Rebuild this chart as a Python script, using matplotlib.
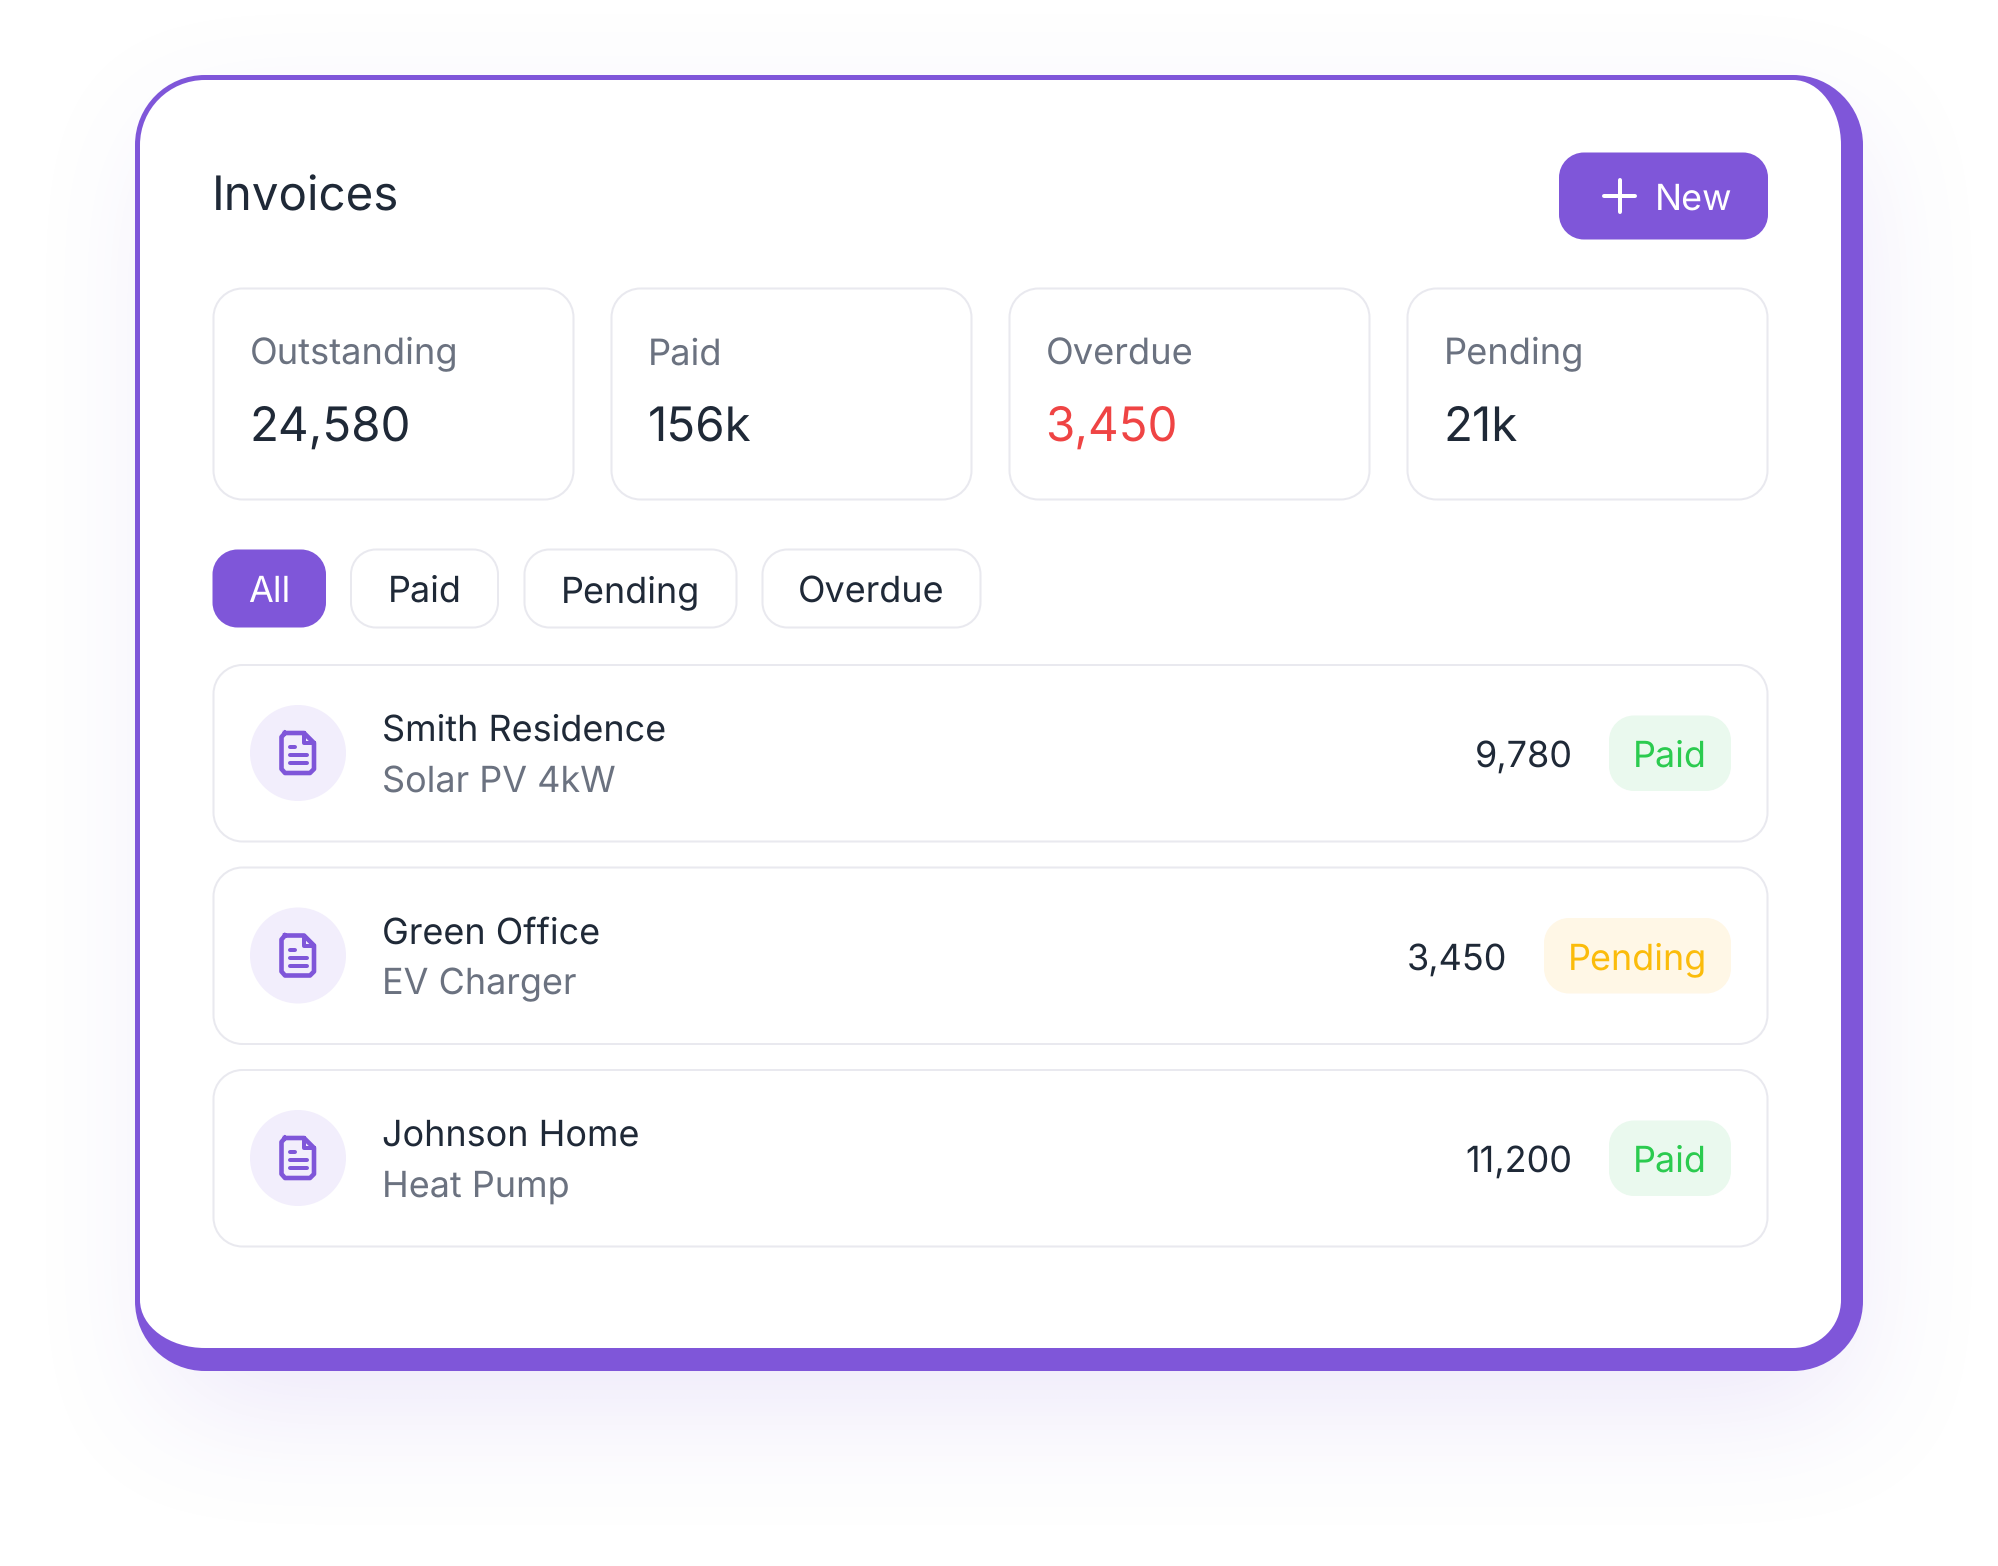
import numpy as np
import matplotlib
matplotlib.use("Agg")
import matplotlib.pyplot as plt
from matplotlib.patches import PathPatch, Circle
from matplotlib.path import Path

plt.rcParams['font.family'] = ['Inter', 'DejaVu Sans']
plt.rcParams['text.hinting'] = 'no_hinting'
plt.rcParams['text.hinting_factor'] = 1

# Data
title = "Invoices"
button_label = "New"
stat_labels = ["Outstanding", "Paid", "Overdue", "Pending"]
stat_values = ["24,580", "156k", "3,450", "21k"]
filter_labels = ["All", "Paid", "Pending", "Overdue"]
row_names = ["Smith Residence", "Green Office", "Johnson Home"]
row_subs = ["Solar PV 4kW", "EV Charger", "Heat Pump"]
row_amounts = ["9,780", "3,450", "11,200"]
row_status = ["Paid", "Pending", "Paid"]

# Colours
PURPLE = "#7F56D9"
CIRCLE = "#F2EEFC"
DARK = "#1F2937"
GRAY = "#6B7280"
RED = "#EF4444"
BORDER = "#E9E9EF"
status_fg = {"Paid": "#2BCB4F", "Pending": "#FBBC0B"}
status_bg = {"Paid": "#EAF9EE", "Pending": "#FFF7E6"}

W, H = 1998, 1566
PX = 0.72  # px -> pt at dpi 100


def rrect(x0, y0, x1, y1, r):
    # r is one radius, or per corner (rx, ry) as tl, tr, br, bl
    if np.isscalar(r):
        r = [(r, r)] * 4
    k = 0.5523
    (a, b), (c, d), (e, f), (g, h) = r
    verts = [(x0 + a, y0), (x1 - c, y0),
             (x1 - c + k * c, y0), (x1, y0 + d - k * d), (x1, y0 + d),
             (x1, y1 - f),
             (x1, y1 - f + k * f), (x1 - e + k * e, y1), (x1 - e, y1),
             (x0 + g, y1),
             (x0 + g - k * g, y1), (x0, y1 - h + k * h), (x0, y1 - h),
             (x0, y0 + b),
             (x0, y0 + b - k * b), (x0 + a - k * a, y0), (x0 + a, y0)]
    codes = [Path.MOVETO, Path.LINETO] + [Path.CURVE4] * 3 + [Path.LINETO] + [Path.CURVE4] * 3 + \
            [Path.LINETO] + [Path.CURVE4] * 3 + [Path.LINETO] + [Path.CURVE4] * 3
    return Path(verts, codes)


def box(ax, x0, y0, x1, y1, r, face="white", edge="none", lw=0.0, z=3):
    ax.add_patch(PathPatch(rrect(x0, y0, x1, y1, r), facecolor=face, edgecolor=edge, linewidth=lw, zorder=z))


def label(ax, x, y, s, px, color, ha="left"):
    ax.text(x, y, s, fontsize=px * PX, color=color, ha=ha, va="baseline", zorder=6)


def blur(a, size):
    # three box passes, close enough to a gaussian
    kernel = np.ones(size) / size
    for _ in range(3):
        a = np.apply_along_axis(lambda v: np.convolve(v, kernel, mode="same"), 0, a)
        a = np.apply_along_axis(lambda v: np.convolve(v, kernel, mode="same"), 1, a)
    return a


def shadow_layer(x0, y0, x1, y1, size):
    # worked at quarter resolution to keep it quick
    yy, xx = np.mgrid[0:H // 4, 0:W // 4] * 4.0
    mask = ((xx > x0) & (xx < x1) & (yy > y0) & (yy < y1)).astype(float)
    return blur(mask, size)


fig = plt.figure(figsize=(W / 100, H / 100), dpi=100, facecolor="white")
ax = fig.add_axes([0, 0, 1, 1])
ax.axis("off")

# Soft shadow behind the card
alpha = 0.13 * shadow_layer(170, 140, 1830, 1385, 32) + 0.025 * shadow_layer(135, 95, 1865, 1410, 32)
rgba = np.zeros(alpha.shape + (4,))
rgba[..., :3] = matplotlib.colors.to_rgb(PURPLE)
rgba[..., 3] = alpha
ax.imshow(rgba, extent=(0, W, H, 0), interpolation="bilinear", aspect="auto", zorder=1)
ax.set_xlim(0, W)
ax.set_ylim(H, 0)

# Card with its thick right and bottom border
box(ax, 135, 75, 1863, 1371, 70, face=PURPLE, z=2)
box(ax, 140, 80, 1841, 1348, [(65, 65), (48, 65), (48, 48), (65, 48)], face="white", z=2.5)

# Header
label(ax, 212, 210, title, 47.5, DARK)
box(ax, 1559, 152.5, 1768, 239.5, 25, face=PURPLE)
ax.plot([1604, 1635], [196, 196], color="white", lw=4 * PX, solid_capstyle="round", zorder=6)
ax.plot([1619.5, 1619.5], [180, 212], color="white", lw=4 * PX, solid_capstyle="round", zorder=6)
label(ax, 1655, 210, button_label, 36, "white")

# Stat cards
for i, (name, value) in enumerate(zip(stat_labels, stat_values)):
    x0 = 213.5 + i * 398
    box(ax, x0, 288.5, x0 + 360, 499.5, 29, edge=BORDER, lw=2 * PX)
    label(ax, x0 + 36.5, 364.5, name, 36.3, GRAY)
    label(ax, x0 + 36, 441, value, 47.5, RED if name == "Overdue" else DARK)

# Filter chips
chip_left = [212.5, 351, 524.5, 762.5]
chip_right = [326, 498, 736.5, 980.5]
for i, name in enumerate(filter_labels):
    active = i == 0
    box(ax, chip_left[i], 549.5, chip_right[i], 627.5, 25,
        face=PURPLE if active else "white", edge="none" if active else BORDER, lw=0 if active else 2 * PX)
    label(ax, (chip_left[i] + chip_right[i]) / 2, 602, name, 36, "white" if active else DARK, ha="center")

# Invoice rows
badge_left = {"Paid": 1609, "Pending": 1544}
for i in range(len(row_names)):
    top = 665 + i * 202.5
    box(ax, 213.5, top, 1767.5, top + 176.5, 29, edge=BORDER, lw=2 * PX)

    cx, cy = 298, top + 88
    ax.add_patch(Circle((cx, cy), 48, facecolor=CIRCLE, edgecolor="none", zorder=4))
    # document icon
    body = [(cx - 13, cy - 20), (cx + 6, cy - 20), (cx + 16, cy - 10), (cx + 16, cy + 16),
            (cx + 12, cy + 20), (cx - 13, cy + 20), (cx - 16.5, cy + 16), (cx - 16.5, cy - 16),
            (cx - 13, cy - 20)]
    ax.plot(*zip(*body), color=PURPLE, lw=4.6 * PX, solid_joinstyle="round", zorder=5)
    ax.plot([cx + 6, cx + 6, cx + 16], [cy - 20, cy - 10, cy - 10], color=PURPLE, lw=4 * PX,
            solid_joinstyle="round", zorder=5)
    ax.plot([cx - 8.5, cx - 3], [cy - 6, cy - 6], color=PURPLE, lw=4 * PX, solid_capstyle="round", zorder=5)
    ax.plot([cx - 8.5, cx + 8.5], [cy + 2, cy + 2], color=PURPLE, lw=4 * PX, solid_capstyle="round", zorder=5)
    ax.plot([cx - 8.5, cx + 8.5], [cy + 10, cy + 10], color=PURPLE, lw=4 * PX, solid_capstyle="round", zorder=5)

    label(ax, 382, top + 76, row_names[i], 36, DARK)
    label(ax, 382, top + 127, row_subs[i], 36, GRAY)

    status = row_status[i]
    left = badge_left[status]
    box(ax, left, top + 50.5, 1731, top + 126, 25, face=status_bg[status])
    label(ax, (left + 1731) / 2, top + 102, status, 36, status_fg[status], ha="center")
    label(ax, left - 36.5, top + 102, row_amounts[i], 36, DARK, ha="right")

fig.savefig("out.png", dpi=100, facecolor="white")
